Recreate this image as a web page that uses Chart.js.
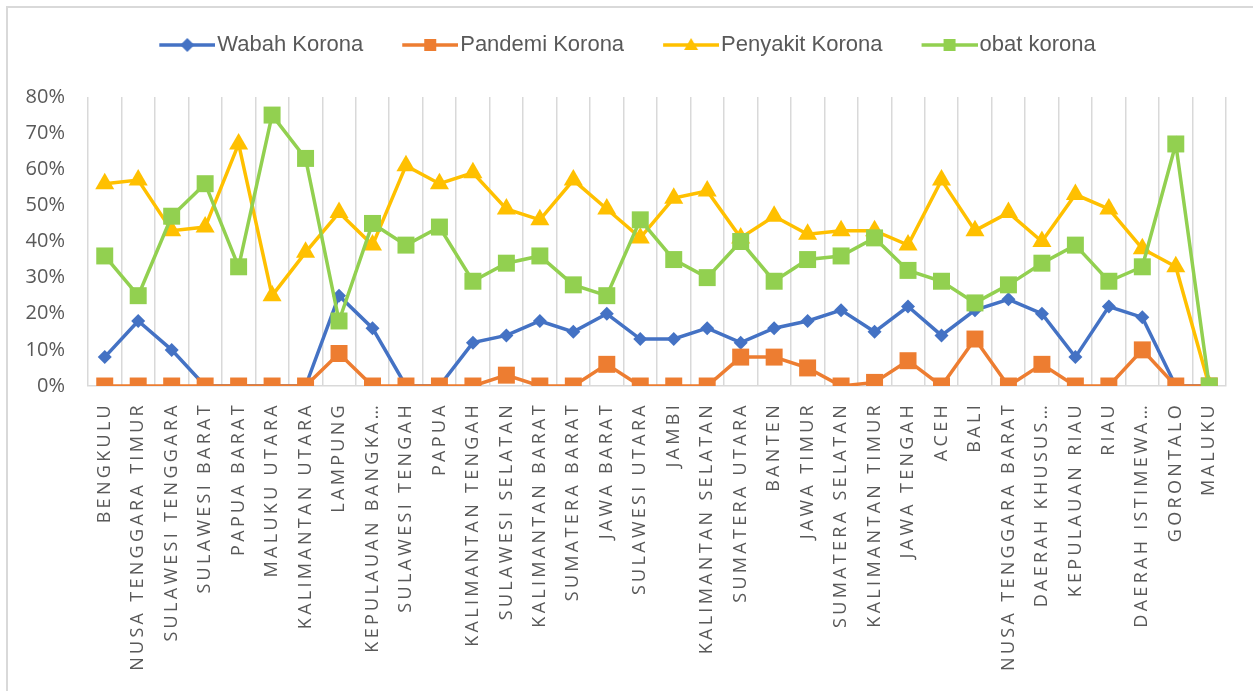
<!DOCTYPE html>
<html>
<head>
<meta charset="utf-8">
<title>Korona per provinsi</title>
<script src="https://cdn.jsdelivr.net/npm/chart.js@4.4.1/dist/chart.umd.min.js"></script>
<style>
  html, body { margin: 0; padding: 0; background: #fff; }
  #wrap { position: relative; width: 1253px; height: 691px; }
  #frame {
    position: absolute; left: 6px; top: 6px; right: 0; bottom: 0;
    border-left: 2px solid #d9d9d9; border-top: 2px solid #d9d9d9;
    pointer-events: none;
  }
</style>
</head>
<body>
<div id="wrap">
  <canvas id="chart" width="1253" height="691"></canvas>
  <div id="frame"></div>
</div>
<script>
// provinces, in the order shown on the x axis
var provinces = [
  'BENGKULU', 'NUSA TENGGARA TIMUR', 'SULAWESI TENGGARA', 'SULAWESI BARAT',
  'PAPUA BARAT', 'MALUKU UTARA', 'KALIMANTAN UTARA', 'LAMPUNG',
  'KEPULAUAN BANGKA…', 'SULAWESI TENGAH', 'PAPUA', 'KALIMANTAN TENGAH',
  'SULAWESI SELATAN', 'KALIMANTAN BARAT', 'SUMATERA BARAT', 'JAWA BARAT',
  'SULAWESI UTARA', 'JAMBI', 'KALIMANTAN SELATAN', 'SUMATERA UTARA',
  'BANTEN', 'JAWA TIMUR', 'SUMATERA SELATAN', 'KALIMANTAN TIMUR',
  'JAWA TENGAH', 'ACEH', 'BALI', 'NUSA TENGGARA BARAT', 'DAERAH KHUSUS…',
  'KEPULAUAN RIAU', 'RIAU', 'DAERAH ISTIMEWA…', 'GORONTALO', 'MALUKU'
];

// values in percent
var wabahKorona = [8, 18, 10, 0, 0, 0, 0, 25, 16, 0, 0, 12, 14, 18, 15, 20, 13,
  13, 16, 12, 16, 18, 21, 15, 22, 14, 21, 24, 20, 8, 22, 19, 0, 0];
var pandemiKorona = [0, 0, 0, 0, 0, 0, 0, 9, 0, 0, 0, 0, 3, 0, 0, 6, 0,
  0, 0, 8, 8, 5, 0, 1, 7, 0, 13, 0, 6, 0, 0, 10, 0, 0];
var penyakitKorona = [56, 57, 43, 44, 67, 25, 37, 48, 39, 61, 56, 59, 49, 46, 57, 49, 41,
  52, 54, 41, 47, 42, 43, 43, 39, 57, 43, 48, 40, 53, 49, 38, 33, 0];
var obatKorona = [36, 25, 47, 56, 33, 75, 63, 18, 45, 39, 44, 29, 34, 36, 28, 25, 46,
  35, 30, 40, 29, 35, 36, 41, 32, 29, 23, 28, 34, 39, 29, 33, 67, 0];

var seriesNames = ['Wabah Korona', 'Pandemi Korona', 'Penyakit Korona', 'obat korona'];
var yTicks = [0, 10, 20, 30, 40, 50, 60, 70, 80];

var BLUE = '#4472c4', ORANGE = '#ed7d31', YELLOW = '#ffc000', GREEN = '#92d050';
var TEXT = '#595959', GRID = '#d9d9d9';

// x axis with letter-spaced labels, like the original
class SpacedCategoryScale extends Chart.CategoryScale {
  drawLabels(chartArea) {
    var ctx = this.ctx;
    ctx.save();
    ctx.letterSpacing = '3.3px';
    super.drawLabels(chartArea);
    ctx.restore();
  }
}
SpacedCategoryScale.id = 'spacedCategory';
SpacedCategoryScale.defaults = Chart.CategoryScale.defaults;
Chart.register(SpacedCategoryScale);

// legend swatch: short line with the series marker on it
var SWATCH_BOX = 76;
function makeSwatch(color, shape) {
  var c = document.createElement('canvas');
  c.width = SWATCH_BOX + 18;
  c.height = 24;
  var g = c.getContext('2d');
  var x1 = c.width - 56, x2 = c.width, mx = c.width - 28, my = 12;
  g.strokeStyle = color;
  g.fillStyle = color;
  g.lineWidth = 3.5;
  g.beginPath();
  g.moveTo(x1, my);
  g.lineTo(x2, my);
  g.stroke();
  g.beginPath();
  if (shape === 'diamond') {
    g.moveTo(mx, my - 7); g.lineTo(mx + 7, my); g.lineTo(mx, my + 7); g.lineTo(mx - 7, my);
  } else if (shape === 'triangle') {
    g.moveTo(mx, my - 7); g.lineTo(mx + 7, my + 5); g.lineTo(mx - 7, my + 5);
  } else {
    g.rect(mx - 6, my - 6, 12, 12);
  }
  g.closePath();
  g.fill();
  return c;
}
var swatches = [
  makeSwatch(BLUE, 'diamond'),
  makeSwatch(ORANGE, 'square'),
  makeSwatch(YELLOW, 'triangle'),
  makeSwatch(GREEN, 'square')
];

// extra gap between the legend and the plot
var legendSpacer = {
  id: 'legendSpacer',
  beforeLayout: function (chart) {
    var legend = chart.legend;
    if (!legend || legend._spaced) return;
    legend._spaced = true;
    var fit = legend.fit;
    legend.fit = function () {
      fit.call(this);
      this.height += 31;
    };
  }
};

function series(i, data, color, style, radius, order) {
  return {
    label: seriesNames[i],
    data: data,
    borderColor: color,
    backgroundColor: color,
    borderWidth: 3.5,
    pointStyle: style,
    pointRadius: radius,
    pointHoverRadius: radius,
    pointBorderWidth: 0,
    pointBackgroundColor: color,
    tension: 0,
    order: order
  };
}

Chart.defaults.color = TEXT;

new Chart(document.getElementById('chart'), {
  type: 'line',
  data: {
    labels: provinces,
    datasets: [
      series(0, wabahKorona, BLUE, 'rectRot', 7, 3),
      series(1, pandemiKorona, ORANGE, 'rect', 12, 2),
      series(2, penyakitKorona, YELLOW, 'triangle', 11, 1),
      series(3, obatKorona, GREEN, 'rect', 12, 0)
    ]
  },
  options: {
    responsive: false,
    animation: false,
    layout: { padding: { top: 24, right: 27, bottom: 0, left: 0 } },
    plugins: {
      tooltip: { enabled: false },
      legend: {
        position: 'top',
        labels: {
          usePointStyle: true,
          pointStyleWidth: SWATCH_BOX,
          boxHeight: 16,
          padding: 10,
          color: TEXT,
          font: { family: "'Liberation Sans Narrow', 'Liberation Sans', sans-serif", size: 22 },
          sort: function (a, b) { return a.datasetIndex - b.datasetIndex; },
          generateLabels: function (chart) {
            var items = Chart.defaults.plugins.legend.labels.generateLabels(chart);
            items.forEach(function (it) { it.pointStyle = swatches[it.datasetIndex]; });
            return items;
          }
        }
      }
    },
    scales: {
      x: {
        type: 'spacedCategory',
        offset: true,
        grid: { display: true, offset: true, color: GRID, lineWidth: 1.5, drawTicks: false },
        border: { display: true, color: GRID, width: 1.5 },
        ticks: {
          autoSkip: false,
          minRotation: 90,
          maxRotation: 90,
          padding: 16,
          color: TEXT,
          font: { family: "'Open Sans', sans-serif", size: 18 }
        },
        afterFit: function (scale) { scale.height = 305; }
      },
      y: {
        min: 0,
        max: 80,
        grid: { display: false, drawTicks: false },
        border: { display: false },
        afterBuildTicks: function (scale) {
          scale.ticks = yTicks.map(function (v) { return { value: v }; });
        },
        ticks: {
          padding: 23,
          color: TEXT,
          font: { family: "'Open Sans', sans-serif", size: 20 },
          callback: function (v) { return v + '%'; }
        },
        afterFit: function (scale) { scale.width = 88; }
      }
    }
  },
  plugins: [legendSpacer]
});
</script>
</body>
</html>
